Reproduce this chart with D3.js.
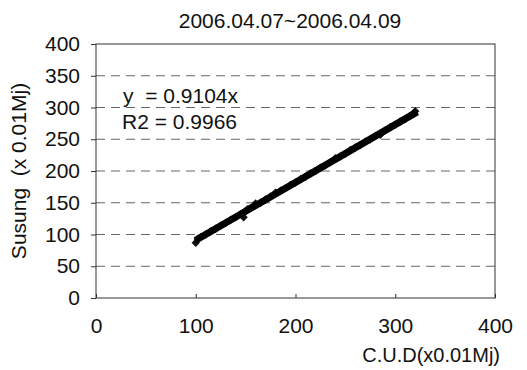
<!DOCTYPE html>
<html>
<head>
<meta charset="utf-8">
<script src="https://cdn.jsdelivr.net/npm/d3@7"></script>
<style>
  body { margin: 0; background: #fff; }
  text { font-family: "Liberation Sans", Arial, sans-serif; fill: #111; white-space: pre; }
</style>
</head>
<body>
<div id="chart"></div>
<script>
var cudValues = [100, 102, 105, 110, 115, 120, 125, 130, 135, 140, 145, 148, 150, 152, 155, 158, 160, 165, 170, 175,
                 180, 185, 190, 195, 200, 205, 210, 215, 220, 225, 230, 235, 240, 245, 250, 255, 260, 265, 270, 275,
                 280, 285, 290, 295, 300, 305, 310, 315, 320];
var susungValues = [87, 93, 96, 100, 105, 109, 114, 118, 123, 127, 132, 127, 137, 140, 142, 145, 149, 150, 155, 160,
                    166, 169, 173, 178, 182, 187, 191, 196, 200, 205, 209, 214, 220, 223, 227, 233, 237, 241, 246, 250,
                    255, 257, 264, 269, 273, 278, 282, 287, 294];
var xTicks = [0, 100, 200, 300, 400];
var yTicks = [0, 50, 100, 150, 200, 250, 300, 350, 400];
var slope = 0.9104;
var trendRange = [100, 322];

function start(){
    var width = 527, height = 370;
    var margin = {top: 44, right: 32, bottom: 72, left: 96};

    var svg = d3.select('#chart').append('svg')
        .attr('width', width)
        .attr('height', height);

    var x = d3.scaleLinear().domain([0, 400]).range([margin.left, width - margin.right]);
    var y = d3.scaleLinear().domain([0, 400]).range([height - margin.bottom, margin.top]);

    // grid lines
    svg.selectAll('.grid')
       .data(yTicks.filter(d => d > 0 && d < 400))
       .enter()
       .append('line')
       .attr('class', 'grid')
       .attr('x1', x(0)).attr('x2', x(400))
       .attr('y1', d => y(d)).attr('y2', d => y(d))
       .attr('stroke', '#666')
       .attr('stroke-width', 1)
       .attr('stroke-dasharray', '9,6');

    // frame
    svg.append('rect')
       .attr('x', x(0)).attr('y', y(400))
       .attr('width', x(400) - x(0)).attr('height', y(0) - y(400))
       .attr('fill', 'none')
       .attr('stroke', '#333')
       .attr('stroke-width', 1);

    // axes
    var yAxis = svg.append('g')
       .attr('transform', 'translate(' + x(0) + ',0)')
       .call(d3.axisLeft(y).tickValues(yTicks).tickSize(5).tickPadding(11));
    var xAxis = svg.append('g')
       .attr('transform', 'translate(0,' + y(0) + ')')
       .call(d3.axisBottom(x).tickValues(xTicks).tickSize(-4).tickPadding(20));
    [xAxis, yAxis].forEach(function(g){
        g.select('.domain').remove();
        g.selectAll('line').attr('stroke', '#333');
        g.selectAll('text').style('font-size', '21px')
         .style('font-family', '"Liberation Sans", Arial, sans-serif').attr('fill', '#111');
    });

    // points (mostly hidden under the trend line, like in the scan)
    var diamond = d3.symbol().type(d3.symbolDiamond2).size(45);
    svg.selectAll('.pt')
       .data(cudValues.map((c, i) => [c, susungValues[i]]))
       .enter()
       .append('path')
       .attr('class', 'pt')
       .attr('d', diamond)
       .attr('transform', d => 'translate(' + x(d[0]) + ',' + y(d[1]) + ')')
       .attr('fill', '#111');

    // trend line
    svg.append('line')
       .attr('x1', x(trendRange[0])).attr('y1', y(trendRange[0] * slope))
       .attr('x2', x(trendRange[1])).attr('y2', y(trendRange[1] * slope))
       .attr('stroke', '#000')
       .attr('stroke-width', 7);

    // equation
    svg.append('text').attr('x', 123).attr('y', 103)
       .style('font-size', '21px').text('y  = 0.9104x');
    svg.append('text').attr('x', 122).attr('y', 129)
       .style('font-size', '21px').text('R2 = 0.9966');

    // title
    svg.append('text').attr('x', 290).attr('y', 28)
       .attr('text-anchor', 'middle')
       .style('font-size', '21px').text('2006.04.07~2006.04.09');

    // axis labels
    svg.append('text').attr('x', 500).attr('y', 362)
       .attr('text-anchor', 'end')
       .style('font-size', '20px').text('C.U.D(x0.01Mj)');
    svg.append('text')
       .attr('transform', 'translate(26,' + 171 + ') rotate(-90)')
       .attr('text-anchor', 'middle')
       .style('font-size', '21px').text('Susung  (x 0.01Mj)');
}

start()
</script>
</body>
</html>
